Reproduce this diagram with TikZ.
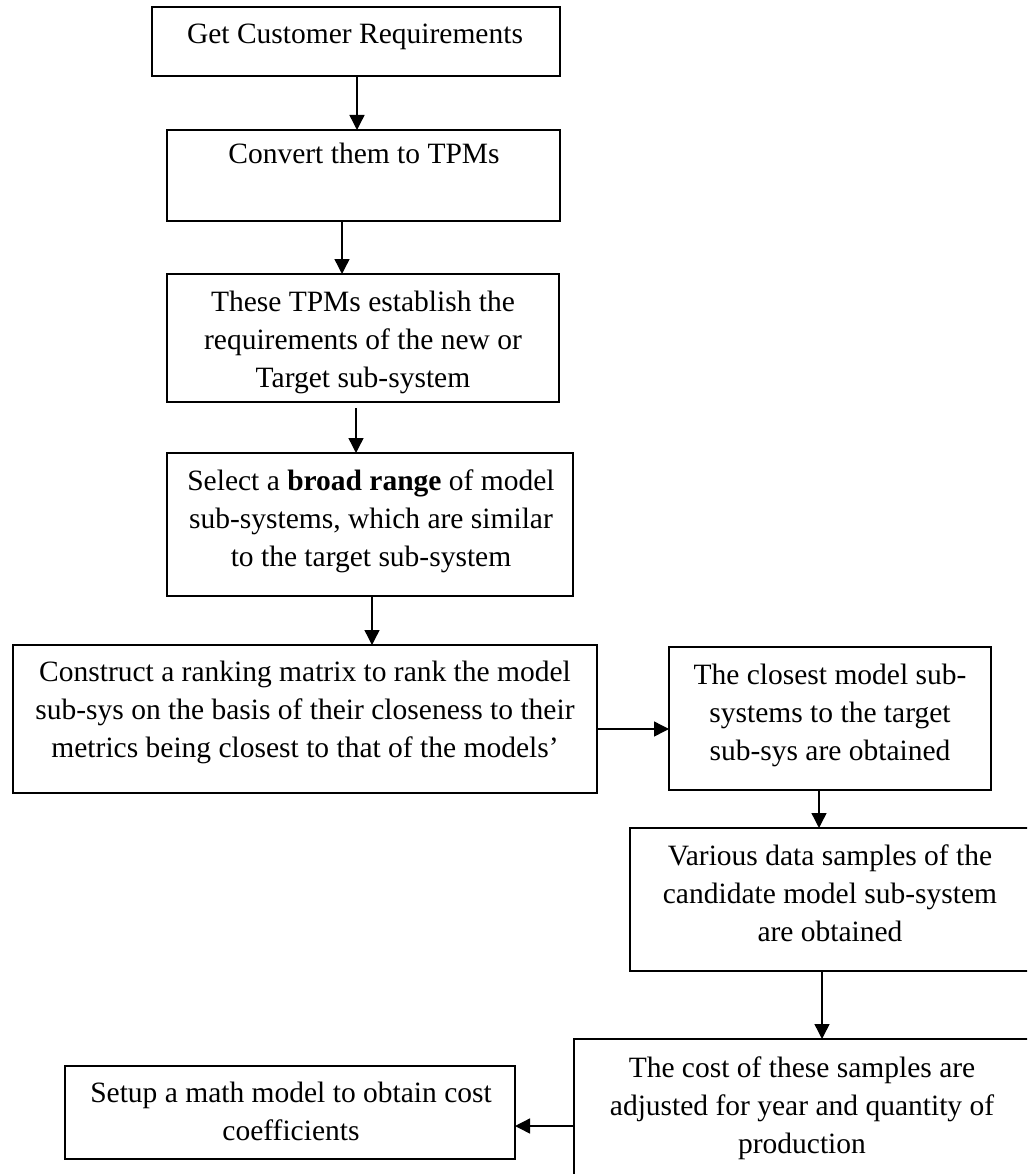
\documentclass[tikz,border=0pt]{standalone}
\usepackage{fontspec}
\setmainfont{Liberation Serif}
\usetikzlibrary{arrows.meta}
\begin{document}
\begin{tikzpicture}[x=1pt,y=-1pt,
  box/.style={draw,line width=1.4pt,rectangle,inner sep=0pt,outer sep=0pt,anchor=north west},
  txt/.style={anchor=base,align=center,inner sep=0pt,font=\fontsize{29.5}{38}\selectfont},
  arr/.style={line width=1.4pt,-{Triangle[width=15pt,length=15pt]}}]
\useasboundingbox (0,0) rectangle (1027,1174);
\clip (0,0) rectangle (1027,1174);
% boxes
\node[box,minimum width=408pt,minimum height=69pt] (b1) at (152,7) {};
\node[box,minimum width=393pt,minimum height=91pt] (b2) at (167,130) {};
\node[box,minimum width=392pt,minimum height=128pt] (b3) at (167,274) {};
\node[box,minimum width=406pt,minimum height=143pt] (b4) at (167,453) {};
\node[box,minimum width=584pt,minimum height=148pt] (b5) at (13,645) {};
\node[box,minimum width=322pt,minimum height=143pt] (b6) at (669,647) {};
\node[box,minimum width=400pt,minimum height=143pt] (b7) at (630,828) {};
\node[box,minimum width=456pt,minimum height=150pt] (b8) at (574,1039) {};
\node[box,minimum width=450pt,minimum height=93pt] (b9) at (65,1066) {};
% texts (base anchor = baseline of last line)
\node[txt] (t1) at (355,44) {Get Customer Requirements};
\node[txt] (t2) at (364,164) {Convert them to TPMs};
\node[txt] (t3) at (363,387) {These TPMs establish the\\requirements of the new or\\Target sub-system};
\node[txt] (t4) at (371,566) {Select a \textbf{broad range} of model\\sub-systems, which are similar\\to the target sub-system};
\node[txt] (t5) at (305,757) {Construct a ranking matrix to rank the model\\sub-sys on the basis of their closeness to their\\metrics being closest to that of the models’};
\node[txt] (t6) at (830,760) {The closest model sub-\\systems to the target\\sub-sys are obtained};
\node[txt] (t7) at (830,941) {Various data samples of the\\candidate model sub-system\\are obtained};
\node[txt] (t8) at (802,1153) {The cost of these samples are\\adjusted for year and quantity of\\production};
\node[txt] (t9) at (291,1140) {Setup a math model to obtain cost\\coefficients};
% connector positions
\coordinate (c1) at (357,0);
\coordinate (c2) at (342,0);
\coordinate (c3) at (356,0);
\coordinate (c4) at (372,0);
\coordinate (c6) at (819,0);
\coordinate (c7) at (822,0);
\coordinate (r5) at (0,729);
\coordinate (r8) at (0,1126);
% connectors
\draw[arr] (b1.south -| c1) -- (b2.north -| c1);
\draw[arr] (b2.south -| c2) -- (b3.north -| c2);
\draw[arr] ([yshift=-6pt]b3.south -| c3) -- (b4.north -| c3);
\draw[arr] (b4.south -| c4) -- (b5.north -| c4);
\draw[arr] (b5.east |- r5) -- (b6.west |- r5);
\draw[arr] (b6.south -| c6) -- (b7.north -| c6);
\draw[arr] (b7.south -| c7) -- (b8.north -| c7);
\draw[arr] (b8.west |- r8) -- (b9.east |- r8);
\end{tikzpicture}
\end{document}
